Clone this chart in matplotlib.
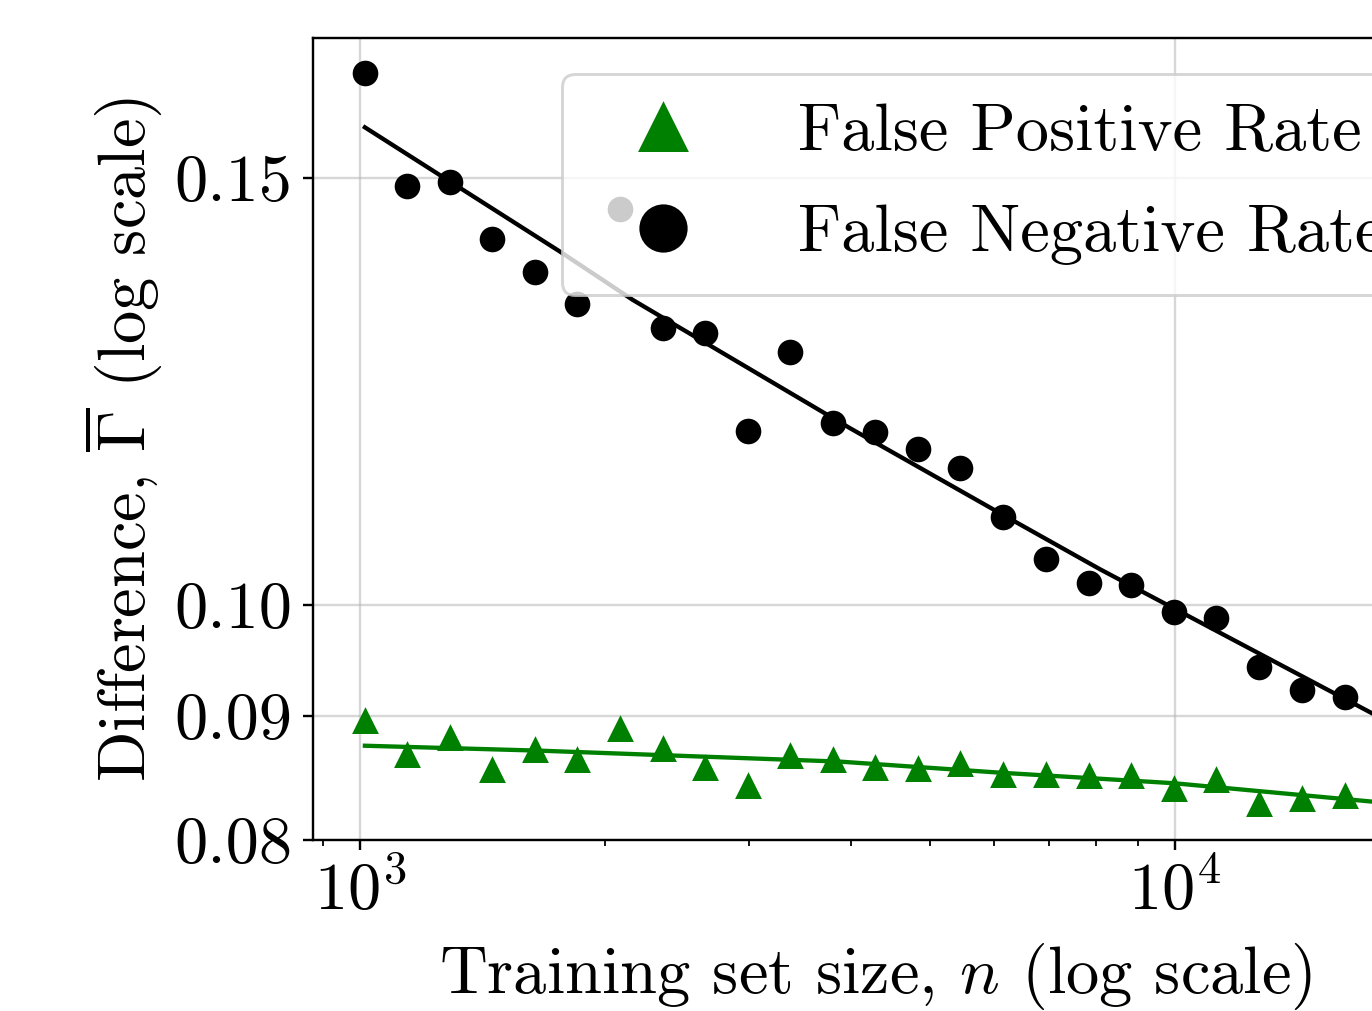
import matplotlib
matplotlib.use("Agg")
import matplotlib.pyplot as plt
from matplotlib import ticker

# training set sizes
train_sizes = [1014, 1142, 1290, 1452, 1640, 1846, 2085, 2354, 2650, 2993,
               3370, 3805, 4283, 4838, 5447, 6150, 6945, 7843, 8831, 9972,
               11225, 12680, 14320, 16170]

# false negative rate difference (black dots)
fnr_diff = [0.1657, 0.1489, 0.1494, 0.1416, 0.1372, 0.1331, 0.1457, 0.1301,
            0.1294, 0.1180, 0.1271, 0.1188, 0.1178, 0.1160, 0.1139, 0.1087,
            0.1045, 0.1021, 0.1019, 0.0993, 0.0988, 0.0943, 0.0922, 0.0916]

# false positive rate difference (green triangles)
fpr_diff = [0.0896, 0.0867, 0.0881, 0.0855, 0.0871, 0.0863, 0.0889, 0.0872,
            0.0857, 0.0842, 0.0866, 0.0863, 0.0857, 0.0856, 0.0860, 0.0851,
            0.0851, 0.0850, 0.0850, 0.0840, 0.0847, 0.0828, 0.0832, 0.0834]

# fitted curves
fit_fnr_n = [1014, 1760, 2162, 3993, 6100, 8090, 9972, 17447, 18400]
fit_fnr = [0.15737, 0.13985, 0.13358, 0.11827, 0.10910, 0.10345, 0.09967, 0.09023, 0.08940]
fit_fpr_n = [1014, 1663, 3881, 6100, 9972, 17447, 18400]
fit_fpr = [0.08749, 0.08708, 0.08618, 0.08528, 0.08443, 0.08297, 0.08285]

yticks = [0.08, 0.09, 0.10, 0.15]
ytick_labels = ["0.08", "0.09", "0.10", "0.15"]

plt.rcParams["font.family"] = "serif"
plt.rcParams["font.serif"] = ["cmr10"]
plt.rcParams["mathtext.fontset"] = "cm"
plt.rcParams["axes.formatter.use_mathtext"] = True
plt.rcParams["axes.unicode_minus"] = False
plt.rcParams["font.size"] = 22.3

DPI = 214.375
fig = plt.figure(figsize=(1372 / DPI, 1011 / DPI), dpi=DPI)
ax = fig.add_axes([313 / 1372, 171 / 1011, 1124 / 1372, 802 / 1011])

ax.plot(fit_fpr_n, fit_fpr, "-", color="green", lw=1.45)
ax.plot(fit_fnr_n, fit_fnr, "-", color="black", lw=1.45)
ax.plot(train_sizes, fpr_diff, "^", color="green", ms=7.6, label="False Positive Rate")
ax.plot(train_sizes, fnr_diff, "o", color="black", ms=7.6, label="False Negative Rate")

ax.set_xscale("log")
ax.set_yscale("log")
ax.set_xlim(875.7, 20965)
ax.set_ylim(0.08, 0.1713)
ax.yaxis.set_major_locator(ticker.FixedLocator(yticks))
ax.yaxis.set_major_formatter(ticker.FixedFormatter(ytick_labels))
ax.yaxis.set_minor_locator(ticker.NullLocator())
ax.grid(True, which="major", color="#b0b0b0", alpha=0.5, lw=0.8)
ax.set_axisbelow(True)

ax.set_xlabel("Training set size, $n$ (log scale)", labelpad=6)
ax.set_ylabel(r"Difference, $\overline{\Gamma}$ (log scale)", labelpad=3)

ax.legend(loc="upper left", bbox_to_anchor=(562 / 1372, 1 - 74 / 1011),
          bbox_transform=fig.transFigure, borderaxespad=0, markerscale=2,
          borderpad=0.45, handlelength=2.14, handletextpad=0.96, labelspacing=0.62)

fig.savefig("out.png", dpi=DPI)
